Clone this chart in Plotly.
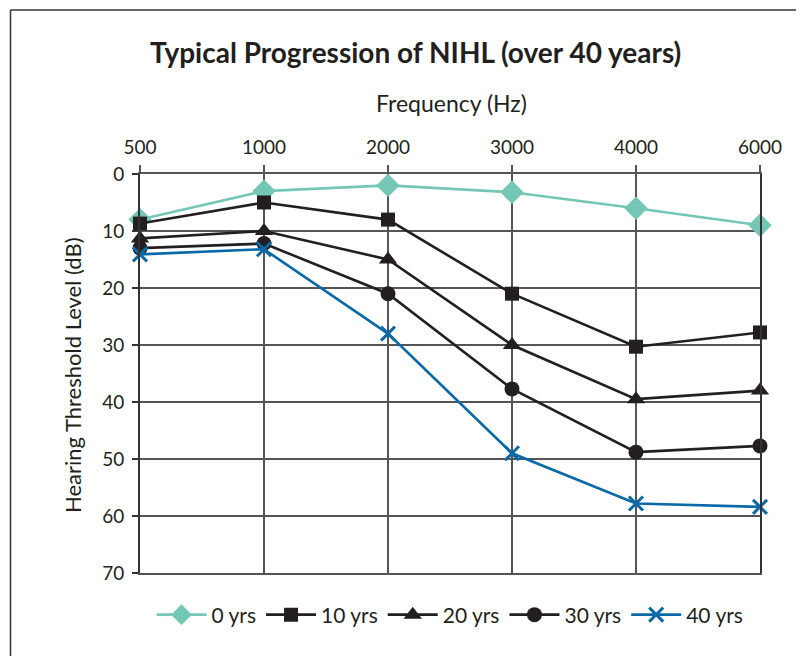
import plotly.graph_objects as go

categories = ["500", "1000", "2000", "3000", "4000", "6000"]
series_names = ["0 yrs", "10 yrs", "20 yrs", "30 yrs", "40 yrs"]
yrs0 = [8, 3, 2, 3.2, 6, 9]
yrs10 = [8.7, 5, 8, 21, 30.3, 27.8]
yrs20 = [11.3, 10, 15, 30, 39.5, 38]
yrs30 = [13, 12.2, 21, 37.7, 48.8, 47.7]
yrs40 = [14.1, 13.2, 28, 49, 57.8, 58.4]
y_ticks = [0, 10, 20, 30, 40, 50, 60, 70]

FONT = "Lato"
TEAL = "#74c6b5"
BLACK = "#231f20"
BLUE = "#0a6aa8"
GRID = "#555555"

styles = [
    (yrs0, TEAL, "diamond", 18, 0),
    (yrs10, BLACK, "square", 14, 0),
    (yrs20, BLACK, "triangle-up", 16, 0),
    (yrs30, BLACK, "circle", 15, 0),
    (yrs40, BLUE, "x-thin", 14, 3),
]

fig = go.Figure()
for name, (vals, col, sym, sz, lw) in zip(series_names, styles):
    fig.add_trace(go.Scatter(
        x=categories, y=vals, name=name, mode="lines+markers",
        line=dict(color=col, width=2.6),
        marker=dict(symbol=sym, size=sz, color=col,
                    line=dict(color=col, width=lw)),
        cliponaxis=False,
    ))

OFF = 8  # page body margin
W, H = 804 - OFF, 656 - OFF
# plot area in page pixels: x 140..760, y 174..573
L, R, T, B = 140 - OFF, 804 - 760, 174 - OFF, 656 - 573
pw, ph = 760 - 140, 573 - 174

def px(x):
    return (x - 140) / pw

def py(y):
    return (573 - y) / ph

fig.update_layout(
    width=W, height=H,
    margin=dict(l=L, r=R, t=T, b=B),
    paper_bgcolor="white", plot_bgcolor="white",
    font=dict(family=FONT, color=BLACK, size=17),
    showlegend=True,
    legend=dict(orientation="h", x=px(450), xanchor="center", y=py(615), yanchor="middle",
                font=dict(size=21, family=FONT, color=BLACK), itemwidth=50,
                tracegroupgap=0),
    xaxis=dict(type="category", side="top", range=[0, 5],
               showgrid=True, gridcolor=GRID, gridwidth=1.6,
               ticks="outside", ticklen=7, tickcolor=GRID, tickwidth=1.6,
               showline=True, linecolor=GRID, linewidth=1.6, mirror=True,
               zeroline=False, ticklabelstandoff=4,
               tickfont=dict(size=19, family=FONT, color=BLACK)),
    yaxis=dict(range=[70, 0], tickvals=y_ticks,
               showgrid=True, gridcolor=GRID, gridwidth=1.6,
               ticks="outside", ticklen=6, tickcolor="#333333", tickwidth=1.6,
               showline=True, linecolor="#333333", linewidth=1.6, mirror=True,
               zeroline=False, ticklabelstandoff=4,
               tickfont=dict(size=19, family=FONT, color=BLACK)),
    annotations=[
        dict(text="<b>Typical Progression of NIHL (over 40 years)</b>",
             x=px(415), y=py(52), xref="paper", yref="paper",
             xanchor="center", yanchor="middle", showarrow=False,
             font=dict(size=28, family=FONT, color=BLACK)),
        dict(text="Frequency (Hz)", x=px(452), y=py(103), xref="paper", yref="paper",
             xanchor="center", yanchor="middle", showarrow=False,
             font=dict(size=23, family=FONT, color=BLACK)),
        dict(text="Hearing Threshold Level (dB)", x=px(72), y=py(375),
             xref="paper", yref="paper", textangle=-90,
             xanchor="center", yanchor="middle", showarrow=False,
             font=dict(size=22, family=FONT, color=BLACK)),
    ],
    shapes=[
        dict(type="line", xref="paper", yref="paper",
             x0=px(10.5), x1=px(10.5), y0=py(10), y1=py(670),
             line=dict(color="#333333", width=1.5)),
        dict(type="line", xref="paper", yref="paper",
             x0=px(10.5), x1=px(820), y0=py(10), y1=py(10),
             line=dict(color="#333333", width=1.5)),
    ],
)

fig.write_html("out.html")
